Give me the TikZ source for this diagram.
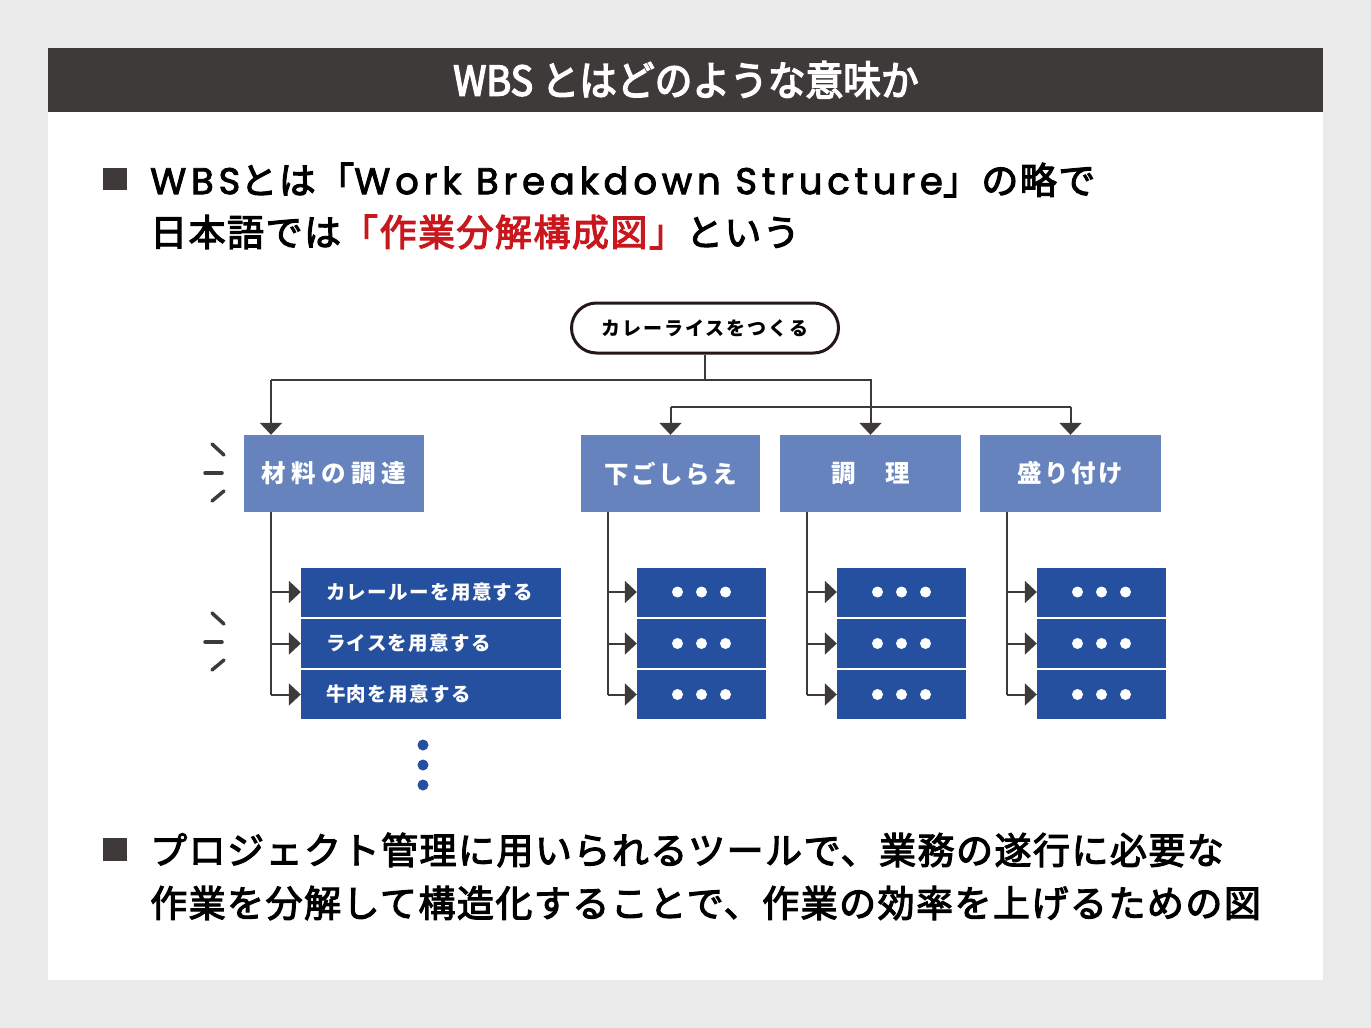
\documentclass[tikz,border=0pt]{standalone}
\usepackage{fontspec}
\setmainfont{Noto Sans CJK JP}
\newfontfamily\titlefont{Noto Sans CJK JP}[FakeStretch=0.92,FakeBold=3.5]
\newfontfamily\bodyfont{Noto Sans CJK JP}[FakeBold=3,LetterSpace=4]
\newfontfamily\phasefont{Noto Sans CJK JP}[LetterSpace=10]
\newfontfamily\widefont{Noto Sans CJK JP}[LetterSpace=22]
\newfontfamily\taskfont{Noto Sans CJK JP}[LetterSpace=7]
\newfontfamily\rootfont{Noto Sans CJK JP}[LetterSpace=10]
\newfontfamily\latinfont{Poppins}[FakeBold=2.5,LetterSpace=13]
\usetikzlibrary{arrows.meta,calc}
\definecolor{bggray}{HTML}{EBEBEB}
\definecolor{barcol}{HTML}{3E3A39}
\definecolor{rootline}{HTML}{231815}
\definecolor{lightblue}{HTML}{6683BD}
\definecolor{darkblue}{HTML}{25509F}
\definecolor{keyred}{HTML}{C9171E}
\tikzset{
  bodytext/.style={anchor=west,inner sep=0pt,font=\bodyfont\fontsize{37}{44}\selectfont},
  rootbox/.style={draw=rootline,line width=3pt,fill=white,rounded corners=25pt,minimum width=267pt,minimum height=50pt,inner sep=0pt,font=\rootfont\fontsize{19}{22}\selectfont\bfseries},
  phase/.style={fill=lightblue,text=white,minimum width=180pt,minimum height=77pt,inner sep=0pt,font=\phasefont\fontsize{24.5}{28}\selectfont\bfseries},
  task/.style={fill=darkblue,text=white,minimum height=49pt,inner sep=0pt,font=\taskfont\fontsize{19.5}{22}\selectfont\bfseries},
  conn/.style={draw=barcol,line width=2pt},
  tip/.style={conn,-{Triangle[length=12pt,width=22pt]}},
  tick/.style={draw=barcol,line width=3.5pt,line cap=round}
}
\begin{document}
\begin{tikzpicture}[x=1pt,y=-1pt]
  \useasboundingbox (0,0) rectangle (1371,1028);
  \fill[bggray] (0,0) rectangle (1371,1028);
  \fill[white] (48,48) rectangle (1323,980);
  \fill[barcol] (48,48) rectangle (1323,112);
  \node[text=white,font=\titlefont\fontsize{41}{46}\selectfont] (title) at (686,80) {WBS とはどのような意味か};

  % top lines
  \fill[barcol] (103,168) rectangle (127,190);
  \node[bodytext] (line1) at (150,180) {{\latinfont WBS}とは「{\latinfont Work Breakdown Structure}」の略で};
  \node[bodytext] (line2) at (150,232) {日本語では{\color{keyred}「作業分解構成図」}という};

  % tree
  \node[rootbox] (root) at (705,328) {カレーライスをつくる};
  \node[phase,font=\widefont\fontsize{24.5}{28}\selectfont\bfseries] (ph1) at (334,473.5) {材料の調達};
  \node[phase,minimum width=179pt] (ph2) at (670.5,473.5) {下ごしらえ};
  \node[phase,minimum width=181pt] (ph3) at (870.5,473.5) {調　理};
  \node[phase,minimum width=181pt] (ph4) at (1070.5,473.5) {盛り付け};

  \coordinate (h1) at (271,380);
  \coordinate (h2) at (670.5,407);
  \coordinate (h3) at (1070.5,407);
  \draw[conn] (root) -- (root |- h1);
  \draw[tip] (h1) -- (h1 |- ph1.north);
  \draw[tip] (h1) -| (ph3.north);
  \draw[conn] (h2) -- (h3);
  \draw[tip] (h2) -- (ph2);
  \draw[tip] (h3) -- (ph4);

  \node[task,minimum width=260pt,text width=210pt,align=left] (tk11) at (431,592) {カレールーを用意する};
  \node[task,minimum width=260pt,text width=210pt,align=left] (tk12) at (431,643.5) {ライスを用意する};
  \node[task,minimum width=260pt,text width=210pt,align=left] (tk13) at (431,694.5) {牛肉を用意する};
  \foreach \c/\x in {2/701.5,3/901.5,4/1101.5} {
    \foreach \r/\y in {1/592,2/643.5,3/694.5} {
      \node[task,minimum width=129pt] (tk\c\r) at (\x,\y) {};
      \foreach \d in {-24,0,24}
        \fill[white] ($(tk\c\r.center)+(\d,0)$) circle (5.5);
    }
  }
  \foreach \c in {1,2,3,4} {
    \coordinate (v\c) at ($(ph\c.south west)+(27,0)$);
    \draw[conn] (v\c) -- (v\c |- tk\c3.west);
    \foreach \r in {1,2,3}
      \draw[tip] (v\c |- tk\c\r.west) -- (tk\c\r.west);
  }
  \foreach \y in {745,765,785}
    \fill[darkblue] (423,\y) circle (5.5);

  % side ticks
  \foreach \o in {0,169} {
    \draw[tick] (212,444+\o) -- (224,455+\o);
    \draw[tick] (205,473+\o) -- (222,473+\o);
    \draw[tick] (212,501+\o) -- (224,491+\o);
  }

  % bottom lines
  \fill[barcol] (103,838) rectangle (127,861);
  \node[bodytext] (line3) at (150,850) {プロジェクト管理に用いられるツールで、業務の遂行に必要な};
  \node[bodytext] (line4) at (150,903) {作業を分解して構造化することで、作業の効率を上げるための図};
\end{tikzpicture}
\end{document}
